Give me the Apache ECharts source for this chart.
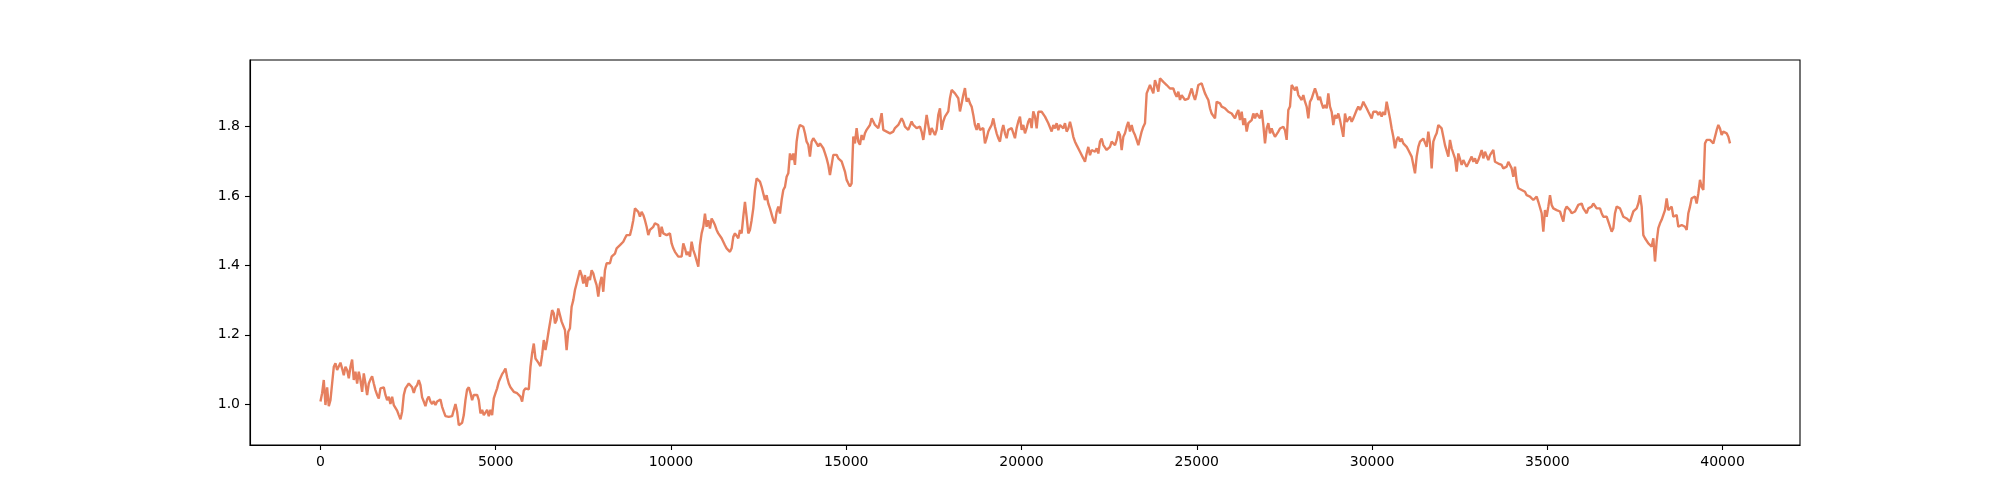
<!DOCTYPE html>
<html>
<head>
<meta charset="utf-8">
<script src="https://cdn.jsdelivr.net/npm/echarts@6.0.0/dist/echarts.min.js"></script>
<style>
  html, body { margin: 0; padding: 0; background: #fff; }
  #chart { width: 2000px; height: 500px; }
</style>
</head>
<body>
<div id="chart"></div>
<script>
// values, one array per stretch of the x axis
// each stretch starts at segStart[i] and is sampled every `step`
var step = 47.55;
var segStart = [0, 6690, 13537, 20385, 27232, 34079];

var seg0 = [1.008,1.032,1.070,0.998,1.049,0.995,1.012,1.060,1.108,1.118,
  1.099,1.103,1.120,1.103,1.084,1.108,1.099,1.075,1.108,1.129,
  1.070,1.094,1.060,1.094,1.070,1.036,1.089,1.060,1.027,1.060,
  1.072,1.081,1.060,1.041,1.027,1.017,1.046,1.049,1.049,1.027,
  1.012,1.022,1.001,1.022,0.998,0.993,0.982,0.969,0.957,0.979,
  1.027,1.046,1.049,1.060,1.065,1.049,1.033,1.049,1.055,1.070,
  1.055,1.020,1.008,0.995,1.014,1.022,1.008,1.001,1.009,0.998,
  1.008,1.012,1.014,0.993,0.979,0.966,0.962,0.964,0.960,0.966,
  0.962,1.001,0.979,0.940,0.937,0.947,0.969,1.012,1.043,1.049,
  1.033,1.012,1.027,1.022,1.027,1.012,0.974,0.984,0.969,0.976,
  0.984,0.966,0.984,0.969,1.017,1.032,1.046,1.065,1.060,1.087,
  1.094,1.103,1.078,1.060,1.049,1.046,1.036,1.041,1.032,1.032,
  1.022,1.008,1.039,1.046,1.043,1.043,1.108,1.147,1.175,1.132,
  1.125,1.118,1.110,1.142,1.185,1.156,1.183,1.214,1.242,1.271,
  1.262];

var seg1 = [1.233,1.243,1.276,1.271,1.238,1.233,1.214,1.156,1.209,1.219,
  1.281,1.300,1.329,1.348,1.353,1.386,1.372,1.348,1.372,1.338,
  1.367,1.358,1.386,1.377,1.358,1.343,1.310,1.348,1.367,1.324,
  1.386,1.406,1.410,1.406,1.425,1.425,1.434,1.449,1.444,1.458,
  1.454,1.468,1.478,1.487,1.492,1.487,1.506,1.530,1.564,1.569,
  1.554,1.540,1.554,1.545,1.530,1.511,1.487,1.502,1.506,1.511,
  1.521,1.526,1.516,1.482,1.511,1.492,1.497,1.487,1.482,1.492,
  1.463,1.449,1.439,1.434,1.425,1.430,1.425,1.463,1.449,1.430,
  1.439,1.425,1.468,1.444,1.430,1.425,1.396,1.458,1.492,1.511,
  1.549,1.511,1.530,1.506,1.535,1.526,1.516,1.502,1.492,1.487,
  1.478,1.473,1.458,1.449,1.444,1.439,1.449,1.482,1.492,1.497,
  1.478,1.502,1.492,1.540,1.583,1.540,1.492,1.502,1.530,1.564,
  1.617,1.650,1.655,1.641,1.626,1.607,1.588,1.602,1.578,1.564,
  1.564,1.530,1.521,1.554,1.569,1.549,1.588,1.617,1.626,1.655,
  1.665,1.722,1.703,1.722];

var seg2 = [1.689,1.756,1.790,1.804,1.806,1.799,1.780,1.756,1.747,1.713,
  1.756,1.766,1.761,1.751,1.742,1.751,1.747,1.737,1.723,1.708,
  1.689,1.660,1.689,1.718,1.713,1.718,1.708,1.713,1.699,1.703,
  1.670,1.646,1.636,1.627,1.636,1.771,1.751,1.795,1.756,1.747,
  1.775,1.761,1.780,1.790,1.795,1.804,1.823,1.814,1.804,1.804,
  1.795,1.814,1.838,1.790,1.790,1.785,1.790,1.780,1.775,1.785,
  1.795,1.799,1.804,1.809,1.823,1.814,1.799,1.804,1.790,1.785,
  1.814,1.804,1.799,1.795,1.790,1.799,1.785,1.761,1.795,1.833,
  1.804,1.775,1.795,1.785,1.775,1.790,1.833,1.852,1.790,1.814,
  1.828,1.833,1.843,1.881,1.905,1.910,1.895,1.890,1.881,1.843,
  1.866,1.890,1.910,1.871,1.881,1.866,1.857,1.833,1.804,1.790,
  1.809,1.790,1.785,1.795,1.751,1.766,1.785,1.795,1.804,1.823,
  1.799,1.780,1.766,1.756,1.785,1.804,1.780,1.766,1.790,1.785,
  1.795,1.790,1.766,1.795,1.814,1.828,1.790,1.804,1.780,1.795,
  1.814,1.823,1.795,1.843];

var seg3 = [1.828,1.794,1.842,1.847,1.842,1.837,1.828,1.833,1.809,1.804,
  1.785,1.804,1.794,1.809,1.789,1.804,1.809,1.794,1.809,1.785,
  1.794,1.813,1.794,1.770,1.756,1.746,1.741,1.727,1.722,1.708,
  1.698,1.722,1.741,1.717,1.732,1.737,1.727,1.737,1.722,1.756,
  1.765,1.746,1.751,1.732,1.737,1.741,1.756,1.761,1.746,1.761,
  1.785,1.775,1.732,1.770,1.780,1.799,1.813,1.785,1.804,1.785,
  1.775,1.761,1.746,1.746,1.785,1.799,1.809,1.895,1.900,1.919,
  1.924,1.895,1.933,1.919,1.900,1.938,1.933,1.928,1.928,1.919,
  1.914,1.909,1.904,1.909,1.895,1.885,1.900,1.876,1.890,1.885,
  1.876,1.880,1.880,1.895,1.909,1.890,1.876,1.895,1.919,1.919,
  1.924,1.909,1.895,1.885,1.876,1.852,1.837,1.833,1.823,1.871,
  1.876,1.866,1.857,1.857,1.852,1.847,1.842,1.847,1.837,1.837,
  1.823,1.837,1.847,1.818,1.842,1.804,1.823,1.785,1.809,1.804,
  1.818,1.837,1.823,1.837,1.833,1.823,1.847,1.804,1.751,1.794,
  1.809,1.780,1.794,1.780];

var seg4 = [1.770,1.775,1.785,1.794,1.789,1.799,1.789,1.761,1.847,1.857,
  1.919,1.924,1.904,1.914,1.890,1.895,1.876,1.890,1.871,1.857,
  1.823,1.871,1.880,1.895,1.909,1.895,1.876,1.885,1.866,1.852,
  1.861,1.852,1.895,1.857,1.842,1.804,1.833,1.823,1.837,1.818,
  1.823,1.770,1.837,1.813,1.818,1.828,1.813,1.823,1.818,1.847,
  1.857,1.847,1.857,1.871,1.861,1.852,1.842,1.837,1.823,1.842,
  1.837,1.842,1.833,1.842,1.828,1.842,1.833,1.871,1.847,1.823,
  1.794,1.770,1.737,1.761,1.770,1.756,1.765,1.751,1.756,1.741,
  1.732,1.727,1.713,1.717,1.665,1.713,1.741,1.756,1.756,1.765,
  1.761,1.741,1.785,1.751,1.679,1.756,1.770,1.780,1.804,1.809,
  1.794,1.770,1.746,1.746,1.713,1.761,1.737,1.722,1.708,1.670,
  1.722,1.727,1.689,1.703,1.693,1.684,1.693,1.703,1.713,1.698,
  1.708,1.693,1.703,1.717,1.732,1.708,1.727,1.722,1.703,1.717,
  1.717,1.732,1.698,1.703,1.693,1.698,1.689,1.679,1.674,1.684,
  1.698,1.698,1.679,1.655];

var seg5 = [1.684,1.641,1.622,1.626,1.617,1.622,1.612,1.602,1.607,1.598,
  1.593,1.588,1.593,1.598,1.583,1.578,1.550,1.497,1.559,1.540,
  1.569,1.602,1.574,1.564,1.569,1.559,1.559,1.555,1.559,1.526,
  1.559,1.569,1.564,1.559,1.550,1.545,1.555,1.559,1.574,1.569,
  1.578,1.564,1.569,1.550,1.564,1.564,1.569,1.578,1.583,1.564,
  1.559,1.564,1.550,1.540,1.540,1.540,1.526,1.526,1.497,1.507,
  1.550,1.569,1.569,1.564,1.559,1.540,1.545,1.535,1.535,1.526,
  1.521,1.555,1.555,1.564,1.578,1.602,1.569,1.487,1.478,1.478,
  1.463,1.468,1.454,1.478,1.411,1.468,1.507,1.521,1.531,1.535,
  1.559,1.593,1.559,1.555,1.569,1.540,1.535,1.545,1.511,1.511,
  1.516,1.511,1.511,1.502,1.550,1.569,1.593,1.588,1.598,1.578,
  1.607,1.646,1.626,1.617,1.751,1.761,1.765,1.761,1.756,1.751,
  1.756,1.789,1.804,1.794,1.775,1.785,1.780,1.780,1.770,1.751];

var xTicks = [0, 5000, 10000, 15000, 20000, 25000, 30000, 35000, 40000];
var yTicks = [1.0, 1.2, 1.4, 1.6, 1.8];

var segments = [seg0, seg1, seg2, seg3, seg4, seg5];
var points = [];
for (var s = 0; s < segments.length; s++) {
    for (var i = 0; i < segments[s].length; i++) {
        points.push([segStart[s] + i * step, segments[s][i]]);
    }
}

var font = { fontFamily: 'DejaVu Sans', fontSize: 14, color: '#000' };
var axisLine = { show: true, onZero: false, lineStyle: { color: '#000', width: 1.1 } };

var option = {
    animation: false,
    backgroundColor: '#fff',
    grid: {
        left: 250, right: 200, top: 60, bottom: 55,
        show: true, borderColor: '#000', borderWidth: 1.1,
        backgroundColor: 'transparent'
    },
    xAxis: {
        type: 'value',
        min: -2010,
        max: 42210,
        splitLine: { show: false },
        axisLine: axisLine,
        axisTick: { show: true, inside: false, length: 5, customValues: xTicks, lineStyle: { color: '#000', width: 1.1 } },
        axisLabel: Object.assign({
            margin: 10,
            customValues: xTicks,
            formatter: function (v) { return String(v); }
        }, font)
    },
    yAxis: {
        type: 'value',
        min: 0.883,
        max: 1.991,
        splitLine: { show: false },
        axisLine: axisLine,
        axisTick: { show: true, inside: false, length: 5, customValues: yTicks, lineStyle: { color: '#000', width: 1.1 } },
        axisLabel: Object.assign({
            margin: 10,
            customValues: yTicks,
            formatter: function (v) { return v.toFixed(1); }
        }, font)
    },
    series: [{
        type: 'line',
        data: points,
        showSymbol: false,
        sampling: 'none',
        lineStyle: { color: '#e6805f', width: 2.4 }
    }]
};

echarts.init(document.getElementById('chart')).setOption(option);
</script>
</body>
</html>
